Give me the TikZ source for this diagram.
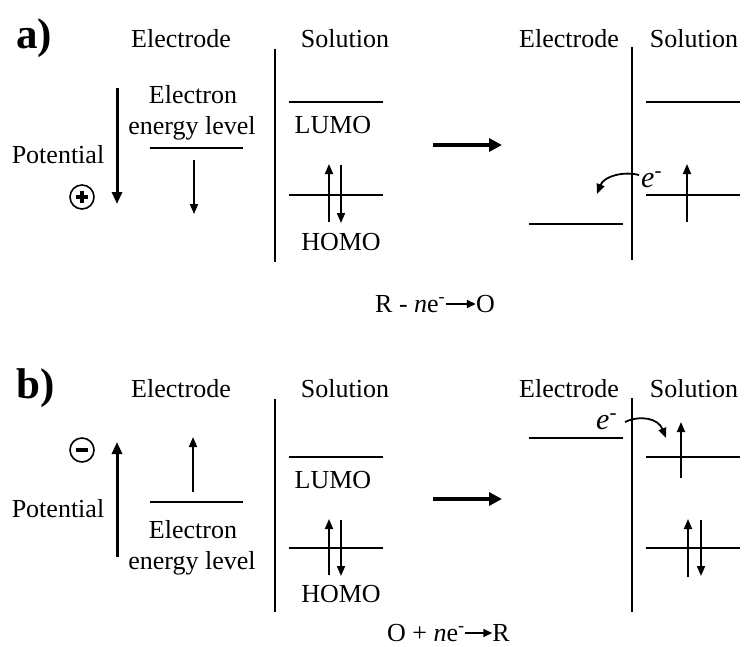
\documentclass[tikz,border=0pt]{standalone}
\usepackage{fontspec}
\setmainfont{Liberation Serif}[BoldFont={Liberation Serif Bold}, ItalicFont={Liberation Serif Italic}]
\usetikzlibrary{arrows.meta}
\begin{document}
\begin{tikzpicture}[x=1pt,y=-1pt,
  txt/.style={inner sep=0pt, anchor=base, font=\fontsize{26}{30}\selectfont},
  elab/.style={inner sep=0pt, anchor=base west, font=\fontsize{30}{34}\selectfont},
  lbl/.style={inner sep=0pt, anchor=base west, font=\bfseries\fontsize{43}{46}\selectfont},
  lvl/.style={line width=2pt},
  wall/.style={line width=2pt},
  spin/.style={line width=1.8pt, -{Triangle[length=10pt,width=8pt]}},
  pot/.style={line width=3pt, -{Triangle[length=12pt,width=10pt]}},
  big/.style={line width=4pt, -{Triangle[length=13pt,width=13pt]}},
  rx/.style={line width=1.5pt, -{Triangle[length=9pt,width=8pt]}},
  sign/.style={circle, draw, line width=1.6pt, minimum size=24pt, inner sep=0pt}
]
\useasboundingbox (0,0) rectangle (744,646);

% ================= panel a =================
\node[lbl] (la) at (16,48) {a)};
\node[txt] (elA) at (181,47) {Electrode};
\node[txt] (soA) at (345,47) {Solution};
\node[txt] (elA2) at (569,47) {Electrode};
\node[txt] (soA2) at (694,47) {Solution};

\draw[wall] (275,49) -- (275,262);
\draw[wall] (632,47) -- (632,260);

% potential
\node[txt] (potA) at (58,163) {Potential};
\draw[pot] (117,88) -- (117,204);
\node[sign] (plusA) at (82,197) {};
\draw[line width=3.2pt] ([xshift=-6pt]plusA.center) -- ([xshift=6pt]plusA.center);
\draw[line width=3.2pt] ([yshift=-6pt]plusA.center) -- ([yshift=6pt]plusA.center);

% electrode level
\node[txt] (eeA1) at (193,103) {Electron};
\node[txt] (eeA2) at (192,134) {energy level};
\draw[lvl] (150,148) -- (243,148);
\draw[spin] (194,160) -- (194,214);

% solution levels
\draw[lvl] (289,102) -- (383,102);
\node[txt] (lumoA) at (333,133) {LUMO};
\draw[lvl] (289,195) -- (383,195);
\draw[spin] (329,222) -- (329,164);
\draw[spin] (341,165) -- (341,223);
\node[txt] (homoA) at (341,250) {HOMO};

% middle arrow
\draw[big] (433,145) -- (502,145);

% right side
\draw[lvl] (529,224) -- (623,224);
\draw[lvl] (646,102) -- (740,102);
\draw[lvl] (646,195) -- (740,195);
\draw[spin] (687,222) -- (687,164);
\node[elab] (eA) at (641,187) {\itshape e\textsuperscript{\upshape -}};
\coordinate (cA1) at (639,175);
\coordinate (cA2) at (597,194);
\draw[spin] (cA1) .. controls (624,171) and (604,176) .. (cA2);

% reaction a
\node[txt, anchor=base west] (ra) at (375,312) {R - \textit{n}e\textsuperscript{-}};
\node[txt, anchor=base east] (roa) at (495,312) {O};
\draw[rx] ([yshift=8pt]ra.base east) -- ([yshift=8pt]roa.base west);

% ================= panel b =================
\node[lbl] (lb) at (16,398) {b)};
\node[txt] (elB) at (181,397) {Electrode};
\node[txt] (soB) at (345,397) {Solution};
\node[txt] (elB2) at (569,397) {Electrode};
\node[txt] (soB2) at (694,397) {Solution};

\draw[wall] (275,399) -- (275,612);
\draw[wall] (632,398) -- (632,612);

% potential
\node[txt] (potB) at (58,517) {Potential};
\draw[pot] (117,557) -- (117,442);
\node[sign] (minusB) at (82,450) {};
\draw[line width=3.2pt] ([xshift=-6pt]minusB.center) -- ([xshift=6pt]minusB.center);

% electrode level
\draw[lvl] (150,502) -- (243,502);
\draw[spin] (193,492) -- (193,437);
\node[txt] (eeB1) at (193,538) {Electron};
\node[txt] (eeB2) at (192,569) {energy level};

% solution levels
\draw[lvl] (289,457) -- (383,457);
\node[txt] (lumoB) at (333,488) {LUMO};
\draw[lvl] (289,548) -- (383,548);
\draw[spin] (329,575) -- (329,519);
\draw[spin] (341,520) -- (341,576);
\node[txt] (homoB) at (341,602) {HOMO};

% middle arrow
\draw[big] (433,499) -- (502,499);

% right side
\draw[lvl] (529,438) -- (623,438);
\draw[lvl] (646,457) -- (740,457);
\draw[spin] (681,478) -- (681,422);
\draw[lvl] (646,548) -- (740,548);
\draw[spin] (688,577) -- (688,519);
\draw[spin] (701,520) -- (701,576);
\node[elab] (eB) at (596,429) {\itshape e\textsuperscript{\upshape -}};
\coordinate (cB1) at (625,422);
\coordinate (cB2) at (666,438);
\draw[spin] (cB1) .. controls (640,415) and (658,418) .. (cB2);

% reaction b
\node[txt, anchor=base west] (rb) at (387,641) {O + \textit{n}e\textsuperscript{-}};
\node[txt, anchor=base east] (rrb) at (510,641) {R};
\draw[rx] ([yshift=8pt]rb.base east) -- ([yshift=8pt]rrb.base west);
\end{tikzpicture}
\end{document}
